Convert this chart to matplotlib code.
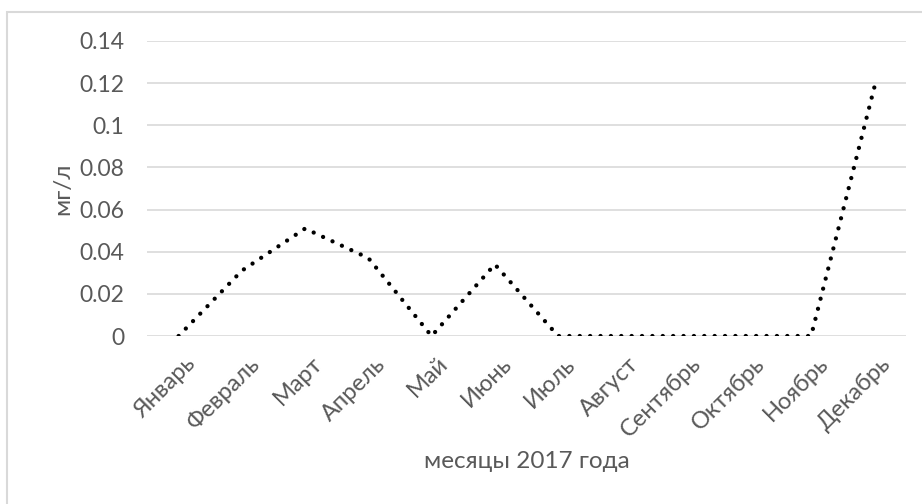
"""
Monthly concentration (mg/l) over 2017, dotted line chart.
"""

import matplotlib.pyplot as plt
import matplotlib.transforms as mtransforms
from matplotlib.patches import Rectangle

###############################################################################
# Data:
months = ["Январь", "Февраль", "Март", "Апрель", "Май", "Июнь", "Июль",
          "Август", "Сентябрь", "Октябрь", "Ноябрь", "Декабрь"]
values = [0.0, 0.031, 0.051, 0.037, 0.0, 0.034, 0.0,
          0.0, 0.0, 0.0, 0.0, 0.118]
yticks = [0, 0.02, 0.04, 0.06, 0.08, 0.1, 0.12, 0.14]
ytick_labels = ["0", "0.02", "0.04", "0.06", "0.08", "0.1", "0.12", "0.14"]

###############################################################################
# Plot:
plt.rcParams['font.family'] = ['Lato', 'DejaVu Sans']
text_color = '#595959'

fig = plt.figure(figsize=(9.22, 5.04), dpi=100)
ax = fig.add_axes([0.1594, 0.3333, 0.8232, 0.5854])

x = list(range(len(months)))
ax.plot(x, values, color='black', linewidth=3.1,
        linestyle=(0, (0.01, 2.4)), dash_capstyle='round')

ax.set_xlim(-0.5, len(months) - 0.5)
ax.set_ylim(0, 0.14)
ax.set_yticks(yticks)
ax.set_yticklabels(ytick_labels, fontsize=16.5)
ax.set_xticks(x)
ax.set_xticklabels(months, rotation=45, ha='right', rotation_mode='anchor',
                   fontsize=17)

ax.grid(axis='y', color='#d9d9d9', linewidth=1.2)
ax.set_axisbelow(True)
for s in ax.spines.values():
    s.set_visible(False)
ax.tick_params(axis='both', length=0, colors=text_color)
ax.tick_params(axis='y', pad=16.5)
ax.tick_params(axis='x', pad=8)

ax.set_ylabel("мг/л", fontsize=17.5, color=text_color, labelpad=4)
ax.set_xlabel("месяцы 2017 года", fontsize=17.5, color=text_color, labelpad=7)

# light chart-area border (right and bottom edges fall outside the picture)
fig.patches.append(Rectangle((7 / 922, -0.1), 1.2, 1 - 12 / 504 + 0.1,
                             transform=fig.transFigure, fill=False,
                             edgecolor='#d9d9d9', linewidth=1.5))

# nudge month labels so they end just right of their category
# (draw first so the tick objects exist and keep the transform)
fig.canvas.draw()
offset = mtransforms.ScaledTranslation(6 / 100, -6 / 100, fig.dpi_scale_trans)
for tick in ax.xaxis.get_major_ticks():
    tick.label1.set_transform(tick.label1.get_transform() + offset)

fig.savefig("out.png", dpi=100)
